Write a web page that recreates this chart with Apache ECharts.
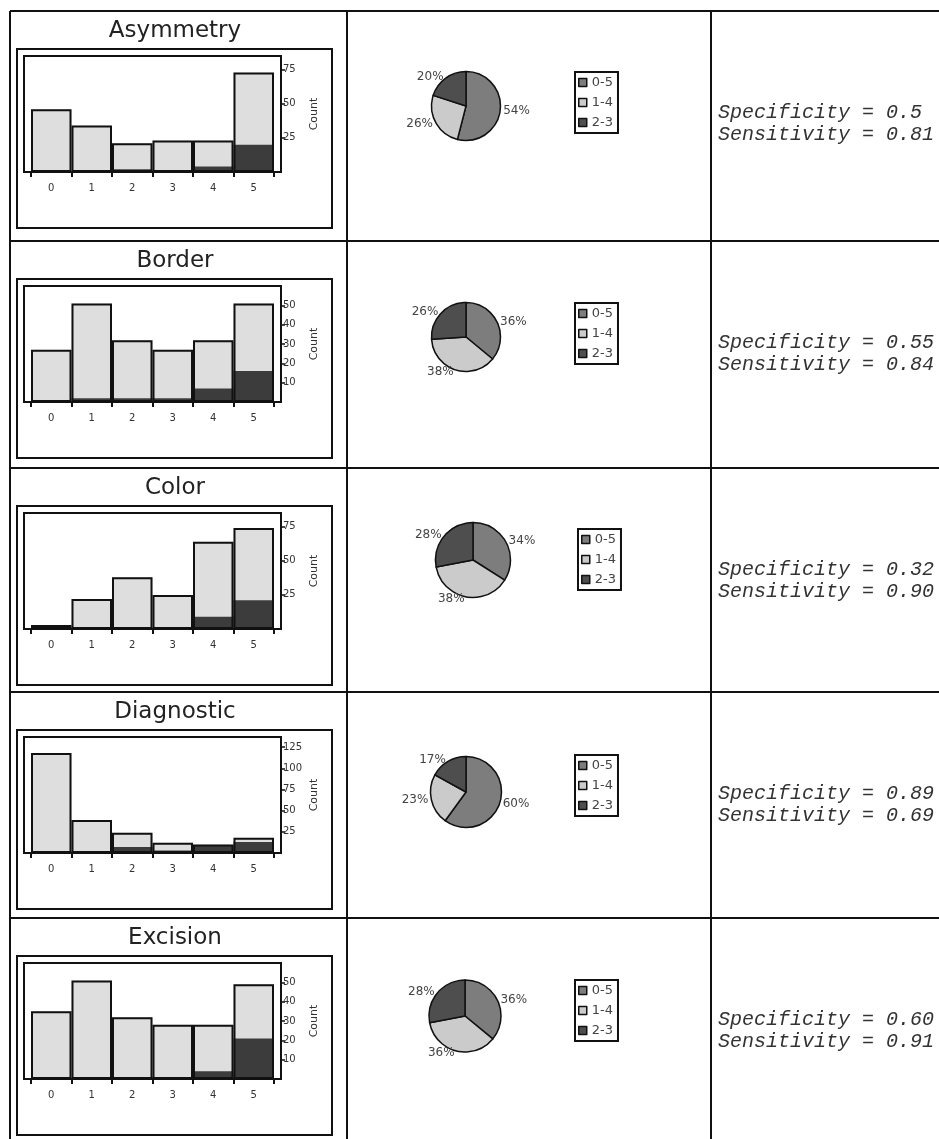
<!DOCTYPE html>
<html><head><meta charset="utf-8">
<script src="https://cdn.jsdelivr.net/npm/echarts@6/dist/echarts.min.js"></script>
<style>html,body{margin:0;padding:0;background:#fff}#c{width:939px;height:1139px}</style>
</head><body><div id="c"></div>
<script>
// ---- data ----
const panelTitles = ['Asymmetry', 'Border', 'Color', 'Diagnostic', 'Excision'];
const scoreCategories = ['0', '1', '2', '3', '4', '5'];
const asymmetryTotal = [46, 34, 21, 23, 23, 73];
const asymmetryDark  = [0, 0, 2, 0, 4, 20];
const borderTotal = [27, 51, 32, 27, 32, 51];
const borderDark  = [0, 2, 2, 2, 7, 16];
const colorTotal = [3, 22, 38, 25, 64, 74];
const colorDark  = [0, 1, 1, 0, 9, 21];
const diagnosticTotal = [118, 39, 24, 12, 10, 18];
const diagnosticDark  = [0, 2, 7, 3, 9, 13];
const excisionTotal = [35, 51, 32, 28, 28, 49];
const excisionDark  = [0, 0, 1, 1, 4, 21];
const countTicks = [[25, 50, 75], [10, 20, 30, 40, 50], [25, 50, 75], [25, 50, 75, 100, 125], [10, 20, 30, 40, 50]];
const countMax = [85, 60, 85, 137, 60];
const pieNames = ['0-5', '1-4', '2-3'];
const asymmetryPie = [54, 26, 20];
const borderPie = [36, 38, 26];
const colorPie = [34, 38, 28];
const diagnosticPie = [60, 23, 17];
const excisionPie = [36, 36, 28];
const specificity = ['0.5', '0.55', '0.32', '0.89', '0.60'];
const sensitivity = ['0.81', '0.84', '0.90', '0.69', '0.91'];

// ---- layout ----
const totals = [asymmetryTotal, borderTotal, colorTotal, diagnosticTotal, excisionTotal];
const darks = [asymmetryDark, borderDark, colorDark, diagnosticDark, excisionDark];
const pies = [asymmetryPie, borderPie, colorPie, diagnosticPie, excisionPie];
const rowTops = [11, 241, 468, 692, 918];
const pieCenters = [[466, 106], [466, 337], [473, 560], [466, 792], [465, 1016]];
const pieRadii = [34.5, 34.5, 37.5, 35.5, 36];
const legendPos = [[575, 72], [575, 303], [578, 529], [575, 755], [575, 980]];
const pieColors = ['#7d7d7d', '#cbcbcb', '#4e4e4e'];
const FONT = '"DejaVu Sans", Verdana, sans-serif';

const grids = [], xAxes = [], yAxes = [], series = [], legends = [], graphics = [];

// table lines
rowTops.forEach(function (y) {
  graphics.push({ type: 'line', z: 20, shape: { x1: 10, y1: y, x2: 939, y2: y }, style: { stroke: '#111', lineWidth: 2 } });
});
[10, 347, 711].forEach(function (x) {
  graphics.push({ type: 'line', z: 20, shape: { x1: x, y1: 11, x2: x, y2: 1139 }, style: { stroke: '#111', lineWidth: 2 } });
});

rowTops.forEach(function (T, i) {
  grids.push({ left: 31, width: 243, top: T + 45, height: 116, outerBoundsMode: 'none', containLabel: false });
  xAxes.push({
    type: 'category', gridIndex: i, data: scoreCategories,
    axisLine: { show: false },
    axisTick: { show: true, length: 5, lineStyle: { color: '#111', width: 2 } },
    axisLabel: { fontSize: 10, color: '#333', margin: 11, fontFamily: FONT },
    splitLine: { show: false }
  });
  yAxes.push({
    type: 'value', gridIndex: i, position: 'right', offset: 7,
    min: 0, max: countMax[i], interval: countTicks[i][0],
    axisLine: { show: false },
    splitLine: { show: false },
    axisTick: { show: true, length: 4, customValues: countTicks[i], lineStyle: { color: '#111', width: 1.5 } },
    axisLabel: { fontSize: 10, color: '#333', margin: 2, fontFamily: FONT, customValues: countTicks[i] },
    name: 'Count', nameLocation: 'middle', nameRotate: 90, nameGap: 28,
    nameTextStyle: { fontSize: 11, color: '#333', fontFamily: FONT }
  });
  series.push({
    type: 'bar', xAxisIndex: i, yAxisIndex: i, data: totals[i], silent: true,
    barCategoryGap: 0, barGap: '-100%', itemStyle: { color: '#dedede' }, z: 2
  });
  series.push({
    type: 'bar', xAxisIndex: i, yAxisIndex: i, data: darks[i], silent: true,
    barCategoryGap: 0, barGap: '-100%', itemStyle: { color: '#3c3c3c' }, z: 3
  });
  series.push({
    type: 'bar', xAxisIndex: i, yAxisIndex: i, data: totals[i], silent: true,
    barCategoryGap: 0, barGap: '-100%', itemStyle: { color: 'rgba(0,0,0,0)', borderColor: '#111', borderWidth: 2 }, z: 4
  });
  series.push({
    type: 'pie', center: pieCenters[i], radius: pieRadii[i], startAngle: 90, clockwise: true,
    silent: true, avoidLabelOverlap: false,
    data: pieNames.map(function (n, k) { return { name: n, value: pies[i][k], itemStyle: { color: pieColors[k] } }; }),
    itemStyle: { borderColor: '#111', borderWidth: 1.5 },
    label: { show: true, position: 'outside', formatter: '{c}%', fontSize: 12, color: '#444', fontFamily: FONT, distanceToLabelLine: 1 },
    labelLine: { show: false, length: 2, length2: 0 }
  });
  legends.push({
    data: pieNames, orient: 'vertical', left: legendPos[i][0], top: legendPos[i][1],
    itemWidth: 8, itemHeight: 8, itemGap: 7, padding: [4, 5, 4, 3],
    borderColor: '#111', borderWidth: 2, icon: 'rect', selectedMode: false,
    textStyle: { fontSize: 13, color: '#444', fontFamily: FONT },
    itemStyle: { borderColor: '#111', borderWidth: 1.5 }
  });
  // panel box and plot frame
  graphics.push({ type: 'rect', z: 10, shape: { x: 17, y: T + 38, width: 315, height: 179 }, style: { fill: 'none', stroke: '#111', lineWidth: 2 } });
  graphics.push({ type: 'rect', z: 10, shape: { x: 24, y: T + 45, width: 257, height: 116 }, style: { fill: 'none', stroke: '#111', lineWidth: 2 } });
  graphics.push({ type: 'text', z: 10, x: 175, y: T + 20, style: { text: panelTitles[i], font: '23px ' + FONT, fill: '#222', align: 'center', verticalAlign: 'middle' } });
  graphics.push({ type: 'text', z: 10, x: 718, y: T + 113, style: {
    text: 'Specificity = ' + specificity[i] + '\nSensitivity = ' + sensitivity[i],
    font: 'italic 20px "Liberation Mono", "DejaVu Sans Mono", monospace', lineHeight: 22,
    fill: '#333', align: 'left', verticalAlign: 'middle' } });
});

const chart = echarts.init(document.getElementById('c'), null, { renderer: 'canvas' });
chart.setOption({
  backgroundColor: '#fff',
  animation: false,
  grid: grids, xAxis: xAxes, yAxis: yAxes, series: series, legend: legends,
  graphic: { elements: graphics }
});
</script></body></html>
